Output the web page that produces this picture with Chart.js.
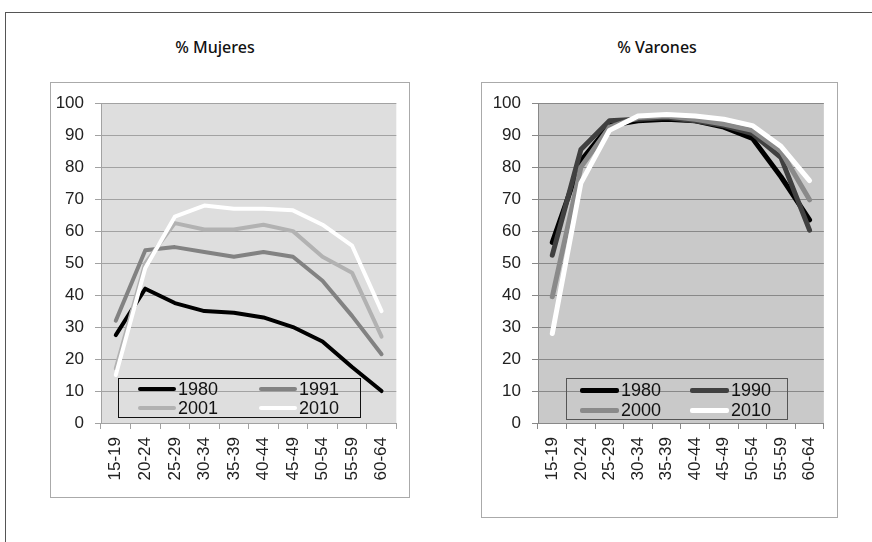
<!DOCTYPE html>
<html lang="es">
  <head>
    <meta charset="UTF-8" />
    <title>Tasas de actividad</title>
    <script src="https://cdn.jsdelivr.net/npm/chart.js"></script>
    <style>
      body {
        margin: 0;
        width: 872px;
        height: 542px;
        background: #fff;
        position: relative;
        overflow: hidden;
        font-family: "Liberation Sans", Arial, sans-serif;
      }
      .abs {
        position: absolute;
      }
      #frame {
        left: 5px;
        top: 12px;
        width: 1000px;
        height: 1000px;
        border: 1px solid #555;
      }
      .title {
        top: 36px;
        width: 200px;
        text-align: center;
        font-family: "Noto Sans", sans-serif;
        font-size: 16px;
        font-weight: 500;
        color: #111;
      }
      .box {
        box-sizing: border-box;
        border: 1px solid #aaa;
        pointer-events: none;
      }
      .legend {
        box-sizing: border-box;
        font-size: 18px;
        color: #111;
      }
      .item {
        position: absolute;
        display: flex;
        align-items: center;
        height: 20px;
      }
      .sw {
        display: inline-block;
        margin-right: 2px;
        border-radius: 2px;
      }
    </style>
  </head>
  <body>
    <div id="frame" class="abs"></div>
    <div class="abs title" style="left: 115px">% Mujeres</div>
    <div class="abs title" style="left: 557px">% Varones</div>

    <canvas id="chartM" class="abs" width="360" height="416" style="left: 50px; top: 82px"></canvas>
    <div class="abs box" style="left: 50px; top: 82px; width: 360px; height: 416px"></div>

    <canvas id="chartV" class="abs" width="357" height="436" style="left: 481px; top: 82px"></canvas>
    <div class="abs box" style="left: 481px; top: 82px; width: 357px; height: 436px"></div>

    <div id="legendM" class="abs legend" style="left: 118px; top: 378px; width: 243px; height: 40px; border: 1px solid #111"></div>
    <div id="legendV" class="abs legend" style="left: 566px; top: 378px; width: 222px; height: 42px; border: 1px solid #555"></div>
  </body>
  <script>
    const ageGroups = ["15-19", "20-24", "25-29", "30-34", "35-39", "40-44", "45-49", "50-54", "55-59", "60-64"];
    const yTicks = [0, 10, 20, 30, 40, 50, 60, 70, 80, 90, 100];

    // % Mujeres
    const mujeresYears = ["1980", "1991", "2001", "2010"];
    const mujeres1980 = [27.5, 42, 37.5, 35, 34.5, 33, 30, 25.5, 17.5, 10];
    const mujeres1991 = [32, 54, 55, 53.5, 52, 53.5, 52, 44.5, 33.5, 21.5];
    const mujeres2001 = [17, 50, 62.5, 60.5, 60.5, 62, 60, 52, 47, 27];
    const mujeres2010 = [15, 48.5, 64.5, 68, 67, 67, 66.5, 62, 55.5, 35];

    // % Varones
    const varonesYears = ["1980", "1990", "2000", "2010"];
    const varones1980 = [56.5, 82, 93, 94.5, 95, 94.5, 92.5, 89, 77, 63.5];
    const varones1990 = [52.5, 85.5, 94.5, 95, 95.5, 94.5, 93, 90.5, 83, 60.3];
    const varones2000 = [39.5, 80, 92.5, 95.5, 96, 95, 93.5, 91.5, 85, 69.8];
    const varones2010 = [28, 75, 91.5, 96, 96.5, 96, 95, 93, 86.5, 75.8];

    const plotBg = {
      id: "plotBg",
      beforeDraw(chart, args, opts) {
        const { ctx, chartArea } = chart;
        ctx.save();
        ctx.fillStyle = opts.color;
        ctx.fillRect(chartArea.left, chartArea.top, chartArea.right - chartArea.left, chartArea.bottom - chartArea.top);
        ctx.restore();
      },
    };

    const tickFont = { family: "'Liberation Sans', Arial, sans-serif", size: 17 };

    const makeChart = (id, years, series, colors, lineWidth, bg, gridColor, yWidth, xHeight, padTop) =>
      new Chart(document.getElementById(id), {
        type: "line",
        data: {
          labels: ageGroups,
          datasets: years.map((y, i) => ({
            label: y,
            data: series[i],
            borderColor: colors[i],
            backgroundColor: colors[i],
            borderWidth: lineWidth,
            pointRadius: 0,
            tension: 0,
            borderJoinStyle: "round",
            borderCapStyle: "round",
            order: years.length - i,
          })),
        },
        options: {
          responsive: false,
          animation: false,
          events: [],
          layout: { padding: { top: padTop, right: 1, left: 0, bottom: 0 } },
          plugins: {
            legend: { display: false },
            tooltip: { enabled: false },
            plotBg: { color: bg },
          },
          scales: {
            x: {
              offset: true,
              grid: { offset: true, drawOnChartArea: false, tickLength: 6, color: gridColor },
              border: { color: gridColor },
              ticks: { font: tickFont, color: "#222", minRotation: 90, maxRotation: 90, padding: 8, autoSkip: false },
              afterFit: (s) => {
                s.height = xHeight;
              },
            },
            y: {
              min: 0,
              max: 100,
              afterBuildTicks: (s) => {
                s.ticks = yTicks.map((v) => ({ value: v }));
              },
              grid: { color: gridColor, tickLength: 6 },
              border: { color: gridColor },
              ticks: { font: tickFont, color: "#222", padding: 11 },
              afterFit: (s) => {
                s.width = yWidth;
              },
            },
          },
        },
        plugins: [plotBg],
      });

    const colorsM = ["#000000", "#828282", "#b2b2b2", "#ffffff"];
    const colorsV = ["#000000", "#404040", "#8a8a8a", "#ffffff"];

    makeChart("chartM", mujeresYears, [mujeres1980, mujeres1991, mujeres2001, mujeres2010], colorsM, 4, "#dedede", "#a2a2a2", 51, 75, 17);
    makeChart("chartV", varonesYears, [varones1980, varones1990, varones2000, varones2010], colorsV, 5, "#c9c9c9", "#888888", 57, 95, 12);

    const buildLegend = (id, years, colors, thick, swLen, cols, rows) => {
      const el = document.getElementById(id);
      years.forEach((y, i) => {
        const item = document.createElement("div");
        item.className = "item";
        item.style.left = cols[i % 2] + "px";
        item.style.top = rows[Math.floor(i / 2)] + "px";
        const sw = document.createElement("span");
        sw.className = "sw";
        sw.style.width = swLen + "px";
        sw.style.height = thick + "px";
        sw.style.background = colors[i];
        item.appendChild(sw);
        item.appendChild(document.createTextNode(y));
        el.appendChild(item);
      });
    };

    buildLegend("legendM", mujeresYears, colorsM, 4, 38, [19, 140], [0, 19]);
    buildLegend("legendV", varonesYears, colorsV, 5, 39, [13, 123], [1, 21]);
  </script>
</html>
